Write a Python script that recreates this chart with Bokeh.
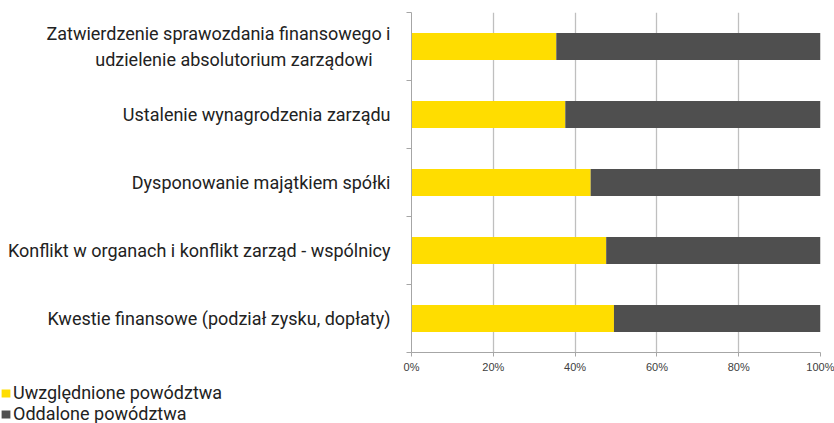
from bokeh.plotting import figure
from bokeh.models import FixedTicker, Legend, LegendItem, Range1d, ColumnDataSource
from bokeh.layouts import column
from bokeh.embed import file_html
from bokeh.resources import INLINE

categories = [
    "Zatwierdzenie sprawozdania finansowego i\nudzielenie absolutorium zarządowi" + "\u00a0" * 4,
    "Ustalenie wynagrodzenia zarządu",
    "Dysponowanie majątkiem spółki",
    "Konflikt w organach i konflikt zarząd - wspólnicy",
    "Kwestie finansowe (podział zysku, dopłaty)",
]
upheld = [35.4, 37.6, 43.8, 47.6, 49.5]          # Uwzględnione powództwa (%)
dismissed = [100 - v for v in upheld]             # Oddalone powództwa (%)
series_names = ["Uwzględnione powództwa", "Oddalone powództwa"]
colors = ["#FFDD00", "#4F4F4F"]
x_ticks = [0, 20, 40, 60, 80, 100]
x_tick_labels = ["0%", "20%", "40%", "60%", "80%", "100%"]

n = len(categories)
ypos = [n - i - 0.5 for i in range(n)]
src = ColumnDataSource(dict(y=ypos, upheld=upheld, dismissed=dismissed,
                            left2=upheld, right2=[u + d for u, d in zip(upheld, dismissed)]))

p = figure(width=834, height=380, output_backend="svg", toolbar_location=None,
           x_range=Range1d(0, 100), y_range=Range1d(0, n),
           min_border_left=411, min_border_right=14, min_border_top=12, min_border_bottom=28)
p.frame_align = False
p.outline_line_color = None
p.background_fill_color = "white"

p.hbar(y="y", left=0, right="upheld", height=0.4, source=src,
       fill_color=colors[0], line_color=None)
p.hbar(y="y", left="left2", right="right2", height=0.4, source=src,
       fill_color=colors[1], line_color=None)

# x axis
p.xaxis.ticker = FixedTicker(ticks=x_ticks, minor_ticks=[])
p.xaxis.major_label_overrides = {t: l for t, l in zip(x_ticks, x_tick_labels)}
p.xaxis.axis_line_color = "#A6A6A6"
p.xaxis.major_tick_line_color = "#A6A6A6"
p.xaxis.major_tick_out = 4
p.xaxis.major_tick_in = 0
p.xaxis.major_label_text_font = "Liberation Sans"
p.xaxis.major_label_text_font_size = "11px"
p.xaxis.major_label_text_color = "#404040"
p.xaxis.major_label_standoff = 4

# y axis
p.yaxis.ticker = FixedTicker(ticks=ypos, minor_ticks=list(range(n + 1)))
p.yaxis.major_label_overrides = {y: c for y, c in zip(ypos, categories)}
p.yaxis.axis_line_color = "#A6A6A6"
p.yaxis.major_tick_line_color = None
p.yaxis.major_tick_out = 0
p.yaxis.major_tick_in = 0
p.yaxis.minor_tick_line_color = "#A6A6A6"
p.yaxis.minor_tick_out = 5
p.yaxis.minor_tick_in = 0
p.yaxis.major_label_text_font = "Roboto"
p.yaxis.major_label_text_font_size = "18px"
p.yaxis.major_label_text_color = "#222222"
p.yaxis.major_label_standoff = 16

p.xgrid.grid_line_color = "#BFBFBF"
p.xgrid.grid_line_width = 1.3
p.ygrid.grid_line_color = None

# legend strip below the chart (its swatch renderers hold one zero-width, off-range row)
lg = figure(width=834, height=43, output_backend="svg", toolbar_location=None,
            x_axis_type=None, y_axis_type=None,
            x_range=Range1d(0, 1), y_range=Range1d(0, 1),
            min_border_left=0, min_border_right=0, min_border_top=0, min_border_bottom=0)
lg.frame_align = False
lg.outline_line_color = None
lg.xgrid.grid_line_color = None
lg.ygrid.grid_line_color = None
items = []
for name, col in zip(series_names, colors):
    r = lg.hbar(y=[-5], left=[0], right=[0], height=0.4, fill_color=col, line_color=None)
    items.append(LegendItem(label=name, renderers=[r]))
legend = Legend(items=items, location=(0, -1), orientation="vertical",
                glyph_width=11, glyph_height=10, label_height=18, label_standoff=2,
                spacing=0, padding=0, margin=0,
                label_text_font="Roboto", label_text_font_size="18px",
                label_text_color="#222222", label_text_baseline="middle",
                background_fill_alpha=0, border_line_color=None)
lg.add_layout(legend, "center")

layout = column(p, lg, spacing=0)
open("out.html", "w").write(file_html(layout, INLINE))
